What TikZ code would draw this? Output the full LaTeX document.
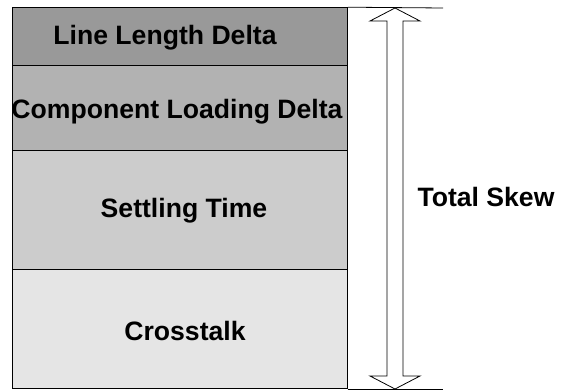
\documentclass[tikz,border=0pt]{standalone}
\usepackage{fontspec}
\setmainfont{Liberation Sans}
\begin{document}
\begin{tikzpicture}[x=1pt,y=1pt,
  layer/.style={draw=black,line width=0.8pt,anchor=south west,inner sep=0pt,minimum width=335pt},
  lbl/.style={font=\fontsize{26.6}{30}\selectfont\bfseries,inner sep=0pt},
  arr/.style={draw=black,line width=0.8pt,fill=white,line join=miter}]
\useasboundingbox (0,0) rectangle (565,391);
% layers (bottom to top)
\node[layer,fill=black!10,minimum height=119pt] (cross) at (12,2) {};
\node[layer,fill=black!20,minimum height=119pt] (settle) at (12,121) {};
\node[layer,fill=black!30,minimum height=85pt] (comp) at (12,240) {};
\node[layer,fill=black!40,minimum height=58pt] (line) at (12,325) {};
% labels
\node[lbl] (tLine) at (165,353) {Line Length Delta};
\node[lbl] (tComp) at (177,279) {Component Loading Delta};
\node[lbl] (tSettle) at (184,180) {Settling Time};
\node[lbl] (tCross) at (185,60) {Crosstalk};
\node[lbl] (tSkew) at (486,194) {Total Skew};
% extension lines
\coordinate (topR) at (443,383);
\coordinate (botR) at (443,2);
\draw[line width=0.8pt] (line.north east) -- (topR);
\draw[line width=0.8pt] (cross.south east) -- (botR);
% double arrow
\coordinate (tip1) at (395,383);
\coordinate (tip2) at (395,2);
\draw[arr] (tip1) -- (420,370) -- (403,370) -- (403,15) -- (420,15) -- (tip2)
  -- (370,15) -- (387,15) -- (387,370) -- (370,370) -- cycle;
\end{tikzpicture}
\end{document}
